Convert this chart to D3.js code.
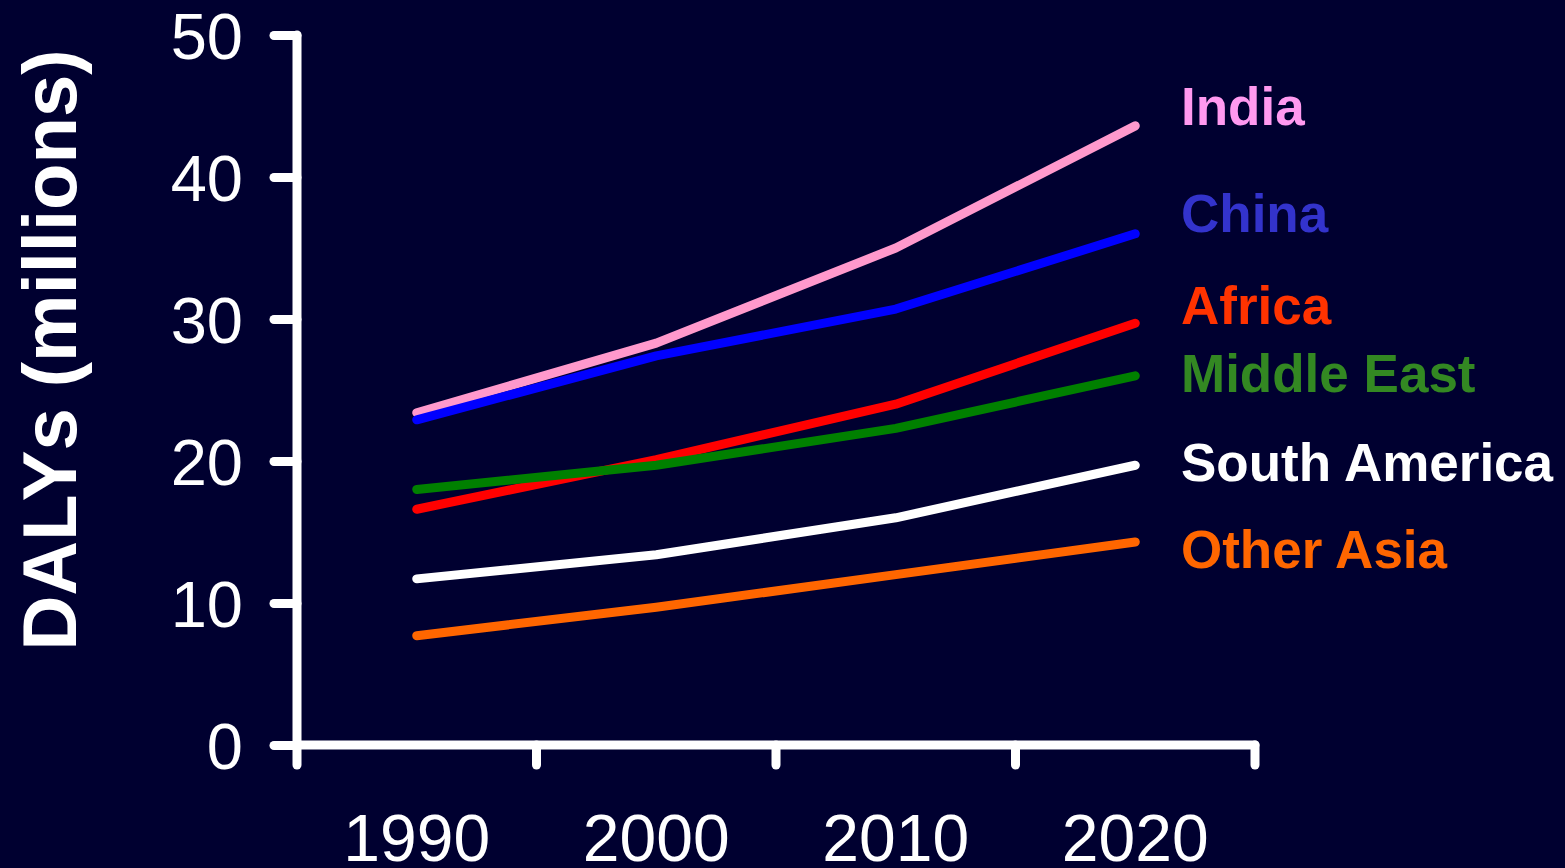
<!DOCTYPE html>
<html>
<head>
<meta charset="utf-8">
<script src="https://cdn.jsdelivr.net/npm/d3@7"></script>
<style>
  html, body { margin: 0; padding: 0; background: #000030; }
  svg { display: block; }
  text { font-family: "Liberation Sans", Arial, sans-serif; }
</style>
</head>
<body>
<svg id="chart" width="1565" height="868"></svg>
<script>
// DALYs (millions) by region, 1990-2020
const years = ["1990", "2000", "2010", "2020"];
const regions = ["India", "China", "Africa", "Middle East", "South America", "Other Asia"];
const india        = [23.4, 28.3, 35.0, 43.6];
const china        = [22.9, 27.4, 30.7, 36.0];
const africa       = [16.6, 20.1, 24.0, 29.7];
const middleEast   = [18.0, 19.7, 22.3, 26.0];
const southAmerica = [11.7, 13.4, 16.0, 19.7];
const otherAsia    = [7.7, 9.7, 12.0, 14.3];
const yTicks = [0, 10, 20, 30, 40, 50];

const seriesValues = [india, china, africa, middleEast, southAmerica, otherAsia];

// styling
const lineColors  = ["#ff99cc", "#0000ff", "#ff0000", "#008000", "#ffffff", "#ff6600"];
const labelColors = ["#ff99f0", "#3333cc", "#ff3300", "#338822", "#ffffff", "#ff6600"];
const labelNudge  = [-1, -2, 1, 16, 16, 26];   // vertical offset of each end label (px)

const svg = d3.select("#chart");
const W = 1565, H = 868;
svg.append("rect").attr("width", W).attr("height", H).attr("fill", "#000030");

const plotLeft = 297, plotRight = 1255, plotTop = 35, plotBottom = 745;

const x = d3.scaleBand().domain(years).range([plotLeft, plotRight]).padding(0);
const y = d3.scaleLinear().domain([0, 50]).range([plotBottom, plotTop]);

const axisStroke = { color: "#ffffff", width: 9 };

// Y axis
const yAxis = svg.append("g")
  .attr("transform", `translate(${plotLeft},0)`)
  .call(d3.axisLeft(y).tickValues(yTicks).tickSize(23).tickPadding(31).tickSizeOuter(0));
yAxis.select(".domain").remove();
yAxis.selectAll(".tick line")
  .attr("stroke", axisStroke.color).attr("stroke-width", axisStroke.width)
  .attr("stroke-linecap", "round");
yAxis.selectAll(".tick text")
  .attr("fill", "#ffffff").attr("font-size", 65).attr("dy", "0.36em");

// X axis labels at band centres
const xAxis = svg.append("g")
  .attr("transform", `translate(0,${plotBottom})`)
  .call(d3.axisBottom(x).tickSize(0).tickPadding(69));
xAxis.select(".domain").remove();
xAxis.selectAll(".tick text")
  .attr("fill", "#ffffff").attr("font-size", 66);

// axis frame: vertical y line, horizontal x line and tick marks at band edges
const edges = years.map(d => x(d)).concat([x(years[years.length - 1]) + x.bandwidth()]);
const tickLen = 20;
const frame = svg.append("g")
  .attr("stroke", axisStroke.color).attr("stroke-width", axisStroke.width)
  .attr("stroke-linecap", "round").attr("fill", "none");
frame.append("line").attr("x1", plotLeft).attr("x2", plotLeft).attr("y1", y(50)).attr("y2", plotBottom + tickLen);
frame.append("line").attr("x1", plotLeft).attr("x2", edges[edges.length - 1]).attr("y1", plotBottom).attr("y2", plotBottom);
frame.selectAll("line.edge").data(edges.slice(1)).enter().append("line")
  .attr("class", "edge")
  .attr("x1", d => d).attr("x2", d => d)
  .attr("y1", plotBottom).attr("y2", plotBottom + tickLen);

// Y axis title
svg.append("text")
  .attr("transform", `translate(76,${(y(50) + plotBottom) / 2 - 40}) rotate(-90)`)
  .attr("text-anchor", "middle")
  .attr("fill", "#ffffff")
  .attr("font-size", 76)
  .attr("font-weight", "bold")
  .text("DALYs (millions)");

// series lines
const line = d3.line()
  .x((d, i) => x(years[i]) + x.bandwidth() / 2)
  .y(d => y(d));

svg.append("g").selectAll("path")
  .data(seriesValues)
  .enter().append("path")
  .attr("d", d => line(d))
  .attr("fill", "none")
  .attr("stroke", (d, i) => lineColors[i])
  .attr("stroke-width", 9)
  .attr("stroke-linecap", "round")
  .attr("stroke-linejoin", "round");

// end labels
svg.append("g").selectAll("text")
  .data(regions)
  .enter().append("text")
  .attr("x", 1181)
  .attr("y", (d, i) => y(seriesValues[i][seriesValues[i].length - 1]) + labelNudge[i])
  .attr("fill", (d, i) => labelColors[i])
  .attr("font-size", 53)
  .attr("font-weight", "bold")
  .text(d => d);
</script>
</body>
</html>
